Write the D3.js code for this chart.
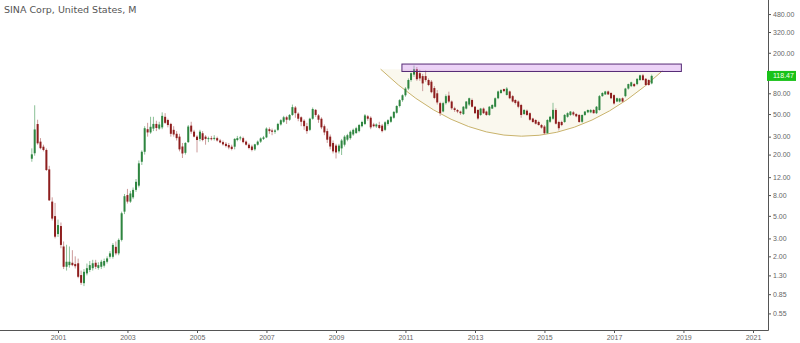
<!DOCTYPE html>
<html>
<head>
<meta charset="utf-8">
<script src="https://cdn.jsdelivr.net/npm/d3@7"></script>
<style>
  body { margin: 0; background: #fff; }
  svg { display: block; font-family: "Liberation Sans", Arial, sans-serif; }
  .axis text { fill: #666; font-size: 7px; }
  .axis line { stroke: #555; }
</style>
</head>
<body>
<div id="chart"></div>
<script>
// SINA Corp monthly candles
const title = "SINA Corp, United States, M";
const firstMonth = { year: 2000, month: 3 }; // April 2000 (0-based month)

// [open, high, low, close] per month
const candles = [
  // 2000 (Apr-Dec)
  [18.2, 23, 17, 20.1], [20.6, 61, 19.5, 35.3], [39.9, 44, 25, 25.8],
  [26.8, 29, 22.5, 23.1], [23.9, 25, 21.5, 22.2], [22.2, 23, 13.8, 14.1],
  [14.3, 15.5, 7, 7.1], [6.9, 7.6, 4.5, 4.7], [4.97, 6.7, 3.0, 3.12],
  // 2001
  [3.31, 4.6, 3.1, 4.06], [3.97, 4.3, 2.4, 2.59], [2.5, 2.8, 1.5, 1.58],
  [1.58, 2.6, 1.45, 1.77], [1.64, 2.5, 1.55, 1.77], [1.73, 2.3, 1.6, 1.64],
  [1.68, 2.0, 1.52, 1.6], [1.71, 1.9, 1.22, 1.26], [1.31, 1.45, 1.05, 1.1],
  [1.09, 1.5, 1.02, 1.41], [1.36, 1.7, 1.3, 1.53], [1.47, 1.8, 1.4, 1.64],
  // 2002
  [1.53, 1.85, 1.45, 1.71], [1.73, 1.85, 1.5, 1.58], [1.54, 1.75, 1.48, 1.64],
  [1.58, 1.85, 1.5, 1.77], [1.62, 1.9, 1.55, 1.8], [1.77, 2.0, 1.7, 1.91],
  [1.98, 2.25, 1.9, 2.14], [1.98, 2.7, 1.9, 2.59], [2.48, 2.8, 2.05, 2.14],
  [2.14, 3.0, 2.05, 2.9], [2.9, 5.5, 2.8, 5.3], [5.5, 8.2, 5.2, 7.8],
  // 2003
  [8.0, 9.2, 6.6, 6.9], [6.9, 8.8, 6.7, 8.3], [7.6, 9.5, 7.3, 9.0],
  [9.0, 11.5, 8.6, 10.8], [9.9, 17.5, 9.5, 16.4], [17, 22, 15.8, 21.3],
  [21.3, 38, 20, 36.3], [35.5, 41, 30, 33], [33, 47, 32, 37.5],
  [36, 47, 34, 40], [40, 43, 34, 36.5], [36, 42, 35, 39.5],
  // 2004
  [37, 52, 35.5, 48], [47, 51, 40, 41], [43.7, 45, 37, 39],
  [40, 41, 30, 32], [35, 38, 30, 31.5], [32, 34, 27.5, 29],
  [30, 32, 21.5, 22.5], [24, 26, 18.5, 20.5], [20.8, 26.5, 20, 26],
  [26.5, 39, 26, 37.7], [38.5, 42, 32, 33.6], [33.6, 35, 29.5, 30],
  // 2005
  [30, 31, 21, 27.8], [28.5, 35, 27, 33.6], [32.4, 34, 27, 27.8],
  [30, 31, 25, 28.5], [28.5, 30, 26.5, 29], [29, 30.5, 27.5, 28.3],
  [28.5, 31, 27.5, 29.2], [29, 30, 26.8, 27.5], [27.5, 28.5, 25.8, 26.3],
  [26.5, 27.5, 24.5, 25.2], [25.5, 26.5, 23.5, 24.3], [24.8, 26, 22.5, 23.5],
  // 2006
  [23.9, 25, 22, 22.7], [23.9, 29, 22.5, 28.5], [27.8, 30.5, 27, 29],
  [29, 30.5, 27.5, 29.5], [29, 30, 25.8, 26.5], [26.8, 27.5, 24.5, 25],
  [25, 25.8, 22.5, 23.2], [24, 25, 21.5, 22.2], [22.5, 25.5, 21.8, 25.2],
  [25, 27.5, 24.5, 26.8], [26.8, 29.5, 26, 28.8], [28.5, 30.5, 27.8, 29.5],
  // 2007
  [29.5, 37, 29, 36], [35.5, 37, 32, 34], [34.5, 36, 31, 33.5],
  [33.5, 35.5, 32, 34.5], [35, 41, 34, 40], [39.5, 44.5, 38.5, 43.5],
  [42, 48, 41, 46.5], [46.5, 48, 40, 44], [44, 50, 43, 49],
  [49, 62, 48, 58.5], [58, 60, 46, 51], [50.5, 52, 42.5, 45],
  // 2008
  [46.5, 47.5, 38, 42], [43, 44.5, 35, 38], [38, 41, 32, 34],
  [35, 46, 34, 45], [45, 58, 44, 56], [55, 56, 47, 49],
  [48.5, 50, 41, 44], [45, 46.5, 35.5, 37], [38, 39.5, 31, 33],
  [34, 36, 26, 28], [30, 31.5, 22.5, 24], [26, 27.5, 20.5, 21.5],
  // 2009
  [24.5, 25.5, 18.3, 21], [21.5, 25.5, 20.5, 24.5], [23, 28.5, 19.8, 27.5],
  [25, 31, 24, 30], [28, 32, 27, 31], [29, 34.5, 28, 33.5],
  [31.5, 36, 30.5, 35], [32.5, 37.5, 32, 36.3], [34, 40, 33, 39],
  [38, 43, 37, 41.8], [40, 50, 39, 48.5], [47.5, 49, 43, 45],
  // 2010
  [46, 47.5, 35.5, 37], [39.5, 41, 37, 38], [37.8, 40.5, 36.5, 39.5],
  [39, 42, 35.5, 36.5], [38.5, 40, 33, 34], [35, 42.5, 34, 41.5],
  [40, 44.5, 38.5, 43.5], [42, 48, 41, 47], [46, 53.5, 45, 52.5],
  [51.5, 61, 50.5, 60], [60, 70, 58, 68.5], [68.5, 78, 66, 76.5],
  // 2011
  [76.5, 92, 74, 89], [89, 112, 86, 108], [108, 128, 104, 126],
  [122, 150, 116, 138], [138, 145, 106, 110], [126, 136, 106, 112],
  [118, 124, 84, 100], [118, 134, 104, 108], [108, 112, 94, 96.5],
  [104, 108, 80, 82], [90, 94, 70, 72], [80, 86, 62, 65],
  // 2012
  [64, 66, 48, 51], [53, 66, 52, 64], [64, 78, 62, 75],
  [76, 83, 64, 66.4], [66.4, 68, 55, 57], [57, 59, 52.5, 54.8],
  [54.8, 56, 51, 52.9], [52.9, 54, 49, 51], [50, 60, 49, 59],
  [56.6, 67, 55.5, 66.4], [62, 72.5, 60, 71.5], [68.7, 71, 58, 59],
  // 2013
  [59, 60, 50, 51], [54.8, 56, 44, 45.2], [49, 57.5, 48, 56.6],
  [56.6, 58, 50, 51], [52.9, 54, 48, 49], [49, 60, 48, 59],
  [56.6, 62.5, 56, 61.4], [59, 73, 58, 71.5], [71.5, 85, 70, 83.4],
  [80.5, 88, 79, 86], [88, 89, 82, 84], [77, 92, 76, 89],
  // 2014
  [83.4, 85, 70, 71.5], [75, 77, 65, 66.4], [68.7, 70, 62, 64.3],
  [66.4, 68, 57, 59], [61.4, 63, 46, 49], [50, 56, 49, 54.8],
  [54, 55.5, 48, 49], [51, 52, 43, 44], [45.2, 46, 41, 41.8],
  [43.7, 44.5, 39.5, 40.2], [41.8, 43, 38.5, 39], [39, 40, 36, 36.8],
  // 2015
  [37.7, 39, 31.5, 32.4], [32.4, 44.5, 32, 43.7], [42, 48, 41, 47],
  [45, 64.5, 44, 55], [54.8, 57, 39.5, 40.2], [41.8, 43, 34.5, 36.3],
  [41.8, 43, 38, 39], [41.8, 50, 41, 49], [47, 52, 46, 51],
  [49, 53.5, 48, 52.9], [52, 53.5, 48, 49.5], [50, 51, 46.5, 47.5],
  // 2016
  [49, 50, 41, 41.8], [42, 49.5, 41, 49], [49, 53.5, 48, 52.9],
  [52, 55.5, 51, 54.8], [52, 56, 51, 54.8], [54.8, 56, 50.5, 51],
  [51, 60, 50, 59], [54.8, 77, 54, 75], [75, 82, 74, 80.5],
  [78, 84.5, 77, 83.4], [83.4, 85, 77, 78], [80.5, 82, 70, 71.5],
  // 2017
  [76.7, 78, 62, 63.5], [66.4, 72.5, 65.5, 71.5], [66.4, 72, 65, 71],
  [71.5, 73, 65.5, 66.4], [75, 90.5, 73, 89], [89, 99.5, 87, 98.5],
  [94, 104, 92, 102.6], [98.5, 101, 92, 94], [98.5, 112, 96, 111],
  [108, 122, 106, 120], [120, 124, 106, 108], [111, 113, 94, 96.5],
  // 2018 (Jan-Feb)
  [108, 110, 95, 96.5], [100, 122, 98, 118.47],
];

const lastPrice = 118.47;
const priceTicks = [480, 320, 200, 80, 50, 30, 20, 12, 8, 5, 3, 2, 1.3, 0.85, 0.55];
const yearTicks = [2001, 2003, 2005, 2007, 2009, 2011, 2013, 2015, 2017, 2019, 2021];

// drawings on the chart: a rounded "cup" and a resistance box
const cupPoints = [
  { date: "2010-04-15", price: 138 },
  { date: "2014-05-05", price: 30.3 },
  { date: "2018-05-25", price: 133 },
];
const resistanceBox = { from: "2010-11-25", to: "2018-12-10", low: 131, high: 155 };

const width = 800;
const height = 343;
const axisX = 768;
const axisY = 330;

const svg = d3
  .select("#chart")
  .append("svg")
  .attr("width", width)
  .attr("height", height);

svg.append("rect").attr("width", width).attr("height", height).attr("fill", "#fff");

const data = candles.map((c, i) => ({
  date: new Date(Date.UTC(firstMonth.year, firstMonth.month + i, 1)),
  open: c[0],
  high: c[1],
  low: c[2],
  close: c[3],
}));

// Scales
const x = d3
  .scaleUtc()
  .domain([new Date(Date.UTC(2001, 0, 1)), new Date(Date.UTC(2021, 0, 1))])
  .range([58, 753]);

const y = d3.scaleLog().domain([0.378, 660]).range([axisY, 0]);

// Cup drawing: quadratic curve through the three anchor points
const p0 = [x(new Date(cupPoints[0].date)), y(cupPoints[0].price)];
const pb = [x(new Date(cupPoints[1].date)), y(cupPoints[1].price)];
const p2 = [x(new Date(cupPoints[2].date)), y(cupPoints[2].price)];
const ctrl = [2 * pb[0] - (p0[0] + p2[0]) / 2, 2 * pb[1] - (p0[1] + p2[1]) / 2];
const cupPath = `M${p0[0]},${p0[1]} Q${ctrl[0]},${ctrl[1]} ${p2[0]},${p2[1]}`;

svg.append("path").attr("d", cupPath + " Z").attr("fill", "#faf8ee").attr("stroke", "none");
svg
  .append("path")
  .attr("d", cupPath)
  .attr("fill", "none")
  .attr("stroke", "#c9b36c")
  .attr("stroke-width", 1);

// ---- CANDLES ----
const bodyW = 2;
const upBody = "#2e8540";
const downBody = "#8e1e1e";
const upWick = "#8cc097";
const downWick = "#cc9a9a";

const candleG = svg.append("g");

candleG
  .selectAll(".wick")
  .data(data)
  .join("line")
  .attr("class", "wick")
  .attr("x1", (d) => x(d.date))
  .attr("x2", (d) => x(d.date))
  .attr("y1", (d) => y(d.high))
  .attr("y2", (d) => y(d.low))
  .attr("stroke", (d) => (d.close >= d.open ? upWick : downWick))
  .attr("stroke-width", 1);

candleG
  .selectAll(".body")
  .data(data)
  .join("rect")
  .attr("class", "body")
  .attr("x", (d) => x(d.date) - bodyW / 2)
  .attr("width", bodyW)
  .attr("y", (d) => y(Math.max(d.open, d.close)))
  .attr("height", (d) => Math.max(1, Math.abs(y(d.open) - y(d.close))))
  .attr("fill", (d) => (d.close >= d.open ? upBody : downBody));

// resistance box on top, semi transparent
svg
  .append("rect")
  .attr("x", x(new Date(resistanceBox.from)))
  .attr("y", y(resistanceBox.high))
  .attr("width", x(new Date(resistanceBox.to)) - x(new Date(resistanceBox.from)))
  .attr("height", y(resistanceBox.low) - y(resistanceBox.high))
  .attr("fill", "rgba(205,140,235,0.38)")
  .attr("stroke", "#552a75")
  .attr("stroke-width", 1);

// ---- AXES ----
const xAxis = svg
  .append("g")
  .attr("class", "axis")
  .attr("transform", `translate(0,${axisY})`)
  .call(
    d3
      .axisBottom(x)
      .tickValues(yearTicks.map((yr) => new Date(Date.UTC(yr, 0, 1))))
      .tickFormat(d3.utcFormat("%Y"))
      .tickSize(3)
      .tickPadding(2),
  );
xAxis.select(".domain").remove();

const yAxis = svg
  .append("g")
  .attr("class", "axis")
  .attr("transform", `translate(${axisX},0)`)
  .call(
    d3
      .axisRight(y)
      .tickValues(priceTicks)
      .tickFormat(d3.format(".2f"))
      .tickSize(3)
      .tickPadding(2),
  );
yAxis.select(".domain").remove();

svg
  .append("line")
  .attr("x1", 0)
  .attr("x2", axisX + 0.5)
  .attr("y1", axisY + 0.5)
  .attr("y2", axisY + 0.5)
  .attr("stroke", "#555");

svg
  .append("line")
  .attr("x1", axisX + 0.5)
  .attr("x2", axisX + 0.5)
  .attr("y1", 0)
  .attr("y2", axisY + 0.5)
  .attr("stroke", "#555");

// last price tag
const lastY = y(lastPrice);
svg
  .append("rect")
  .attr("x", axisX - 1)
  .attr("y", lastY - 5)
  .attr("width", 29)
  .attr("height", 10)
  .attr("fill", "#19c219");

svg
  .append("text")
  .attr("x", axisX + 5)
  .attr("y", lastY + 2.5)
  .attr("fill", "#f4ffe8")
  .attr("font-size", "7px")
  .text(lastPrice.toFixed(2));

// title
svg
  .append("text")
  .attr("x", 4)
  .attr("y", 13)
  .attr("fill", "#555")
  .attr("font-family", "'DejaVu Sans', Verdana, sans-serif")
  .attr("font-size", "9.5px")
  .text(title);
</script>
</body>
</html>
